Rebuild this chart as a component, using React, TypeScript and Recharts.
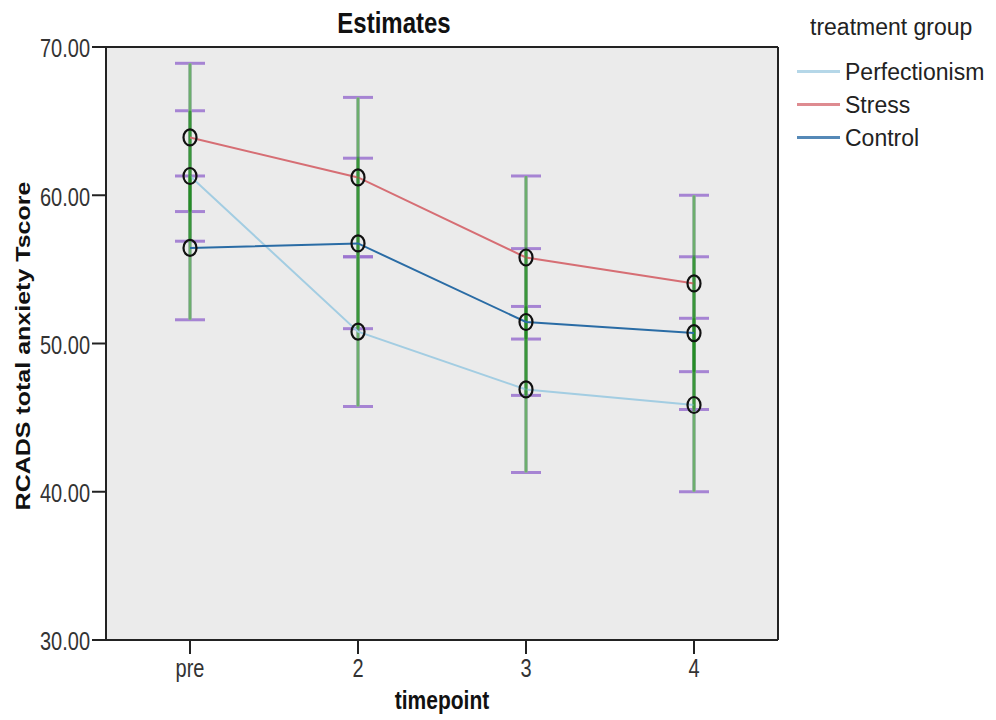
import { LineChart, Line, XAxis, YAxis, CartesianGrid, ErrorBar } from 'recharts'

const timepoints = ['pre', '2', '3', '4']

const perfectionismMean = [61.3, 50.8, 46.9, 45.85]
const perfectionismLow = [56.9, 45.75, 41.3, 40.0]
const perfectionismHigh = [65.7, 55.85, 52.5, 51.7]

const stressMean = [63.9, 61.2, 55.8, 54.05]
const stressLow = [58.9, 55.85, 50.3, 48.1]
const stressHigh = [68.9, 66.6, 61.3, 60.0]

const controlMean = [56.45, 56.75, 51.45, 50.7]
const controlLow = [51.6, 51.0, 46.5, 45.55]
const controlHigh = [61.3, 62.5, 56.4, 55.85]

const yTicks = [30, 40, 50, 60, 70]

const series = [
  { key: 'perfectionism', name: 'Perfectionism', color: '#a3cde2', mean: perfectionismMean, low: perfectionismLow, high: perfectionismHigh },
  { key: 'stress', name: 'Stress', color: '#d66e74', mean: stressMean, low: stressLow, high: stressHigh },
  { key: 'control', name: 'Control', color: '#2a6ca5', mean: controlMean, low: controlLow, high: controlHigh },
]

const data = timepoints.map((t, i) => {
  const row: Record<string, any> = { t }
  series.forEach(s => {
    row[s.key] = s.mean[i]
    row[s.key + 'Err'] = [s.mean[i] - s.low[i], s.high[i] - s.mean[i]]
  })
  return row
})

const FONT = '"Liberation Sans", Arial, sans-serif'
const AXIS = '#222'
const PLOT_BG = '#ebebeb'

function YTick(props: any) {
  const { x, y, payload } = props
  return (
    <g transform={`translate(${x},${y}) scale(1,1.3)`}>
      <text x={0} y={0} dy="0.4em" textAnchor="end" fontSize={20} fill="#333" fontFamily={FONT}>
        {Number(payload.value).toFixed(2)}
      </text>
    </g>
  )
}

function XTick(props: any) {
  const { x, y, payload } = props
  return (
    <g transform={`translate(${x},${y}) scale(1,1.3)`}>
      <text x={0} y={16} textAnchor="middle" fontSize={20} fill="#333" fontFamily={FONT}>
        {payload.value}
      </text>
    </g>
  )
}

function Marker(props: any) {
  const { cx, cy, index } = props
  if (cx == null || cy == null) return null
  return <ellipse key={index} cx={cx} cy={cy} rx={6.5} ry={8} fill="none" stroke="#111" strokeWidth={2.2} />
}

export default function App() {
  return (
    <div style={{ position: 'absolute', left: 0, top: 0, width: 996, height: 720, background: '#fff', fontFamily: FONT }}>
      <LineChart width={996} height={720} data={data} margin={{ top: 46, right: 217, bottom: 0, left: 0 }}>
        <CartesianGrid horizontal={false} vertical={false} fill={PLOT_BG} />
        <XAxis
          dataKey="t"
          height={80}
          padding={{ left: 84, right: 84 }}
          tickSize={14}
          tickMargin={2}
          axisLine={{ stroke: AXIS, strokeWidth: 2 }}
          tickLine={{ stroke: AXIS, strokeWidth: 2 }}
          tick={<XTick />}
        />
        <XAxis xAxisId="top" dataKey="t" orientation="top" height={1} tick={false} tickLine={false} axisLine={{ stroke: AXIS, strokeWidth: 2 }} />
        <YAxis
          domain={[30, 70]}
          ticks={yTicks}
          width={106}
          tickSize={14}
          tickMargin={2}
          axisLine={{ stroke: AXIS, strokeWidth: 2 }}
          tickLine={{ stroke: AXIS, strokeWidth: 2 }}
          tick={<YTick />}
        />
        <YAxis yAxisId="right" orientation="right" domain={[30, 70]} width={1} tick={false} tickLine={false} axisLine={{ stroke: AXIS, strokeWidth: 2 }} />

        {/* purple caps, with the vertical part wiped so the green bars stay green */}
        {series.map(s => (
          <Line
            key={s.key + '-caps'}
            dataKey={s.key}
            stroke="none"
            dot={false}
            activeDot={false}
            legendType="none"
            isAnimationActive={false}
          >
            <ErrorBar dataKey={s.key + 'Err'} direction="y" width={15} stroke="#9a72cf" strokeWidth={3} strokeOpacity={0.85} isAnimationActive={false} />
            <ErrorBar dataKey={s.key + 'Err'} direction="y" width={0} stroke={PLOT_BG} strokeWidth={3} isAnimationActive={false} />
          </Line>
        ))}

        {series.map(s => (
          <Line
            key={s.key}
            dataKey={s.key}
            name={s.name}
            stroke={s.color}
            strokeWidth={2}
            isAnimationActive={false}
            dot={<Marker />}
            activeDot={false}
          >
            <ErrorBar dataKey={s.key + 'Err'} direction="y" width={0} stroke="#178517" strokeWidth={3} strokeOpacity={0.6} isAnimationActive={false} />
          </Line>
        ))}
      </LineChart>

      <div style={{ position: 'absolute', left: 394, top: 7, transform: 'translateX(-50%) scaleY(1.2)', transformOrigin: 'center top', fontSize: 24, fontWeight: 'bold', color: '#111', whiteSpace: 'nowrap' }}>
        Estimates
      </div>
      <div style={{ position: 'absolute', left: 442, top: 686, transform: 'translateX(-50%) scaleY(1.2)', transformOrigin: 'center top', fontSize: 21, fontWeight: 'bold', color: '#111', whiteSpace: 'nowrap' }}>
        timepoint
      </div>
      <div style={{ position: 'absolute', left: 23, top: 346, transform: 'translate(-50%,-50%) scaleY(1.25) rotate(-90deg)', fontSize: 20, fontWeight: 'bold', color: '#111', whiteSpace: 'nowrap' }}>
        RCADS total anxiety Tscore
      </div>

      <div style={{ position: 'absolute', left: 810, top: 12, fontSize: 23, color: '#222', whiteSpace: 'nowrap', transform: 'scaleY(1.08)', transformOrigin: 'left top' }}>
        treatment group
      </div>
      {series.map((s, i) => (
        <div key={s.key} style={{ position: 'absolute', left: 797, top: 58 + i * 33, height: 26, display: 'flex', alignItems: 'center', whiteSpace: 'nowrap' }}>
          <div style={{ width: 43, height: 3, background: s.color, opacity: 0.8 }} />
          <span style={{ marginLeft: 5, fontSize: 23, color: '#222', display: 'inline-block', transform: 'scaleY(1.08)' }}>{s.name}</span>
        </div>
      ))}
    </div>
  )
}
